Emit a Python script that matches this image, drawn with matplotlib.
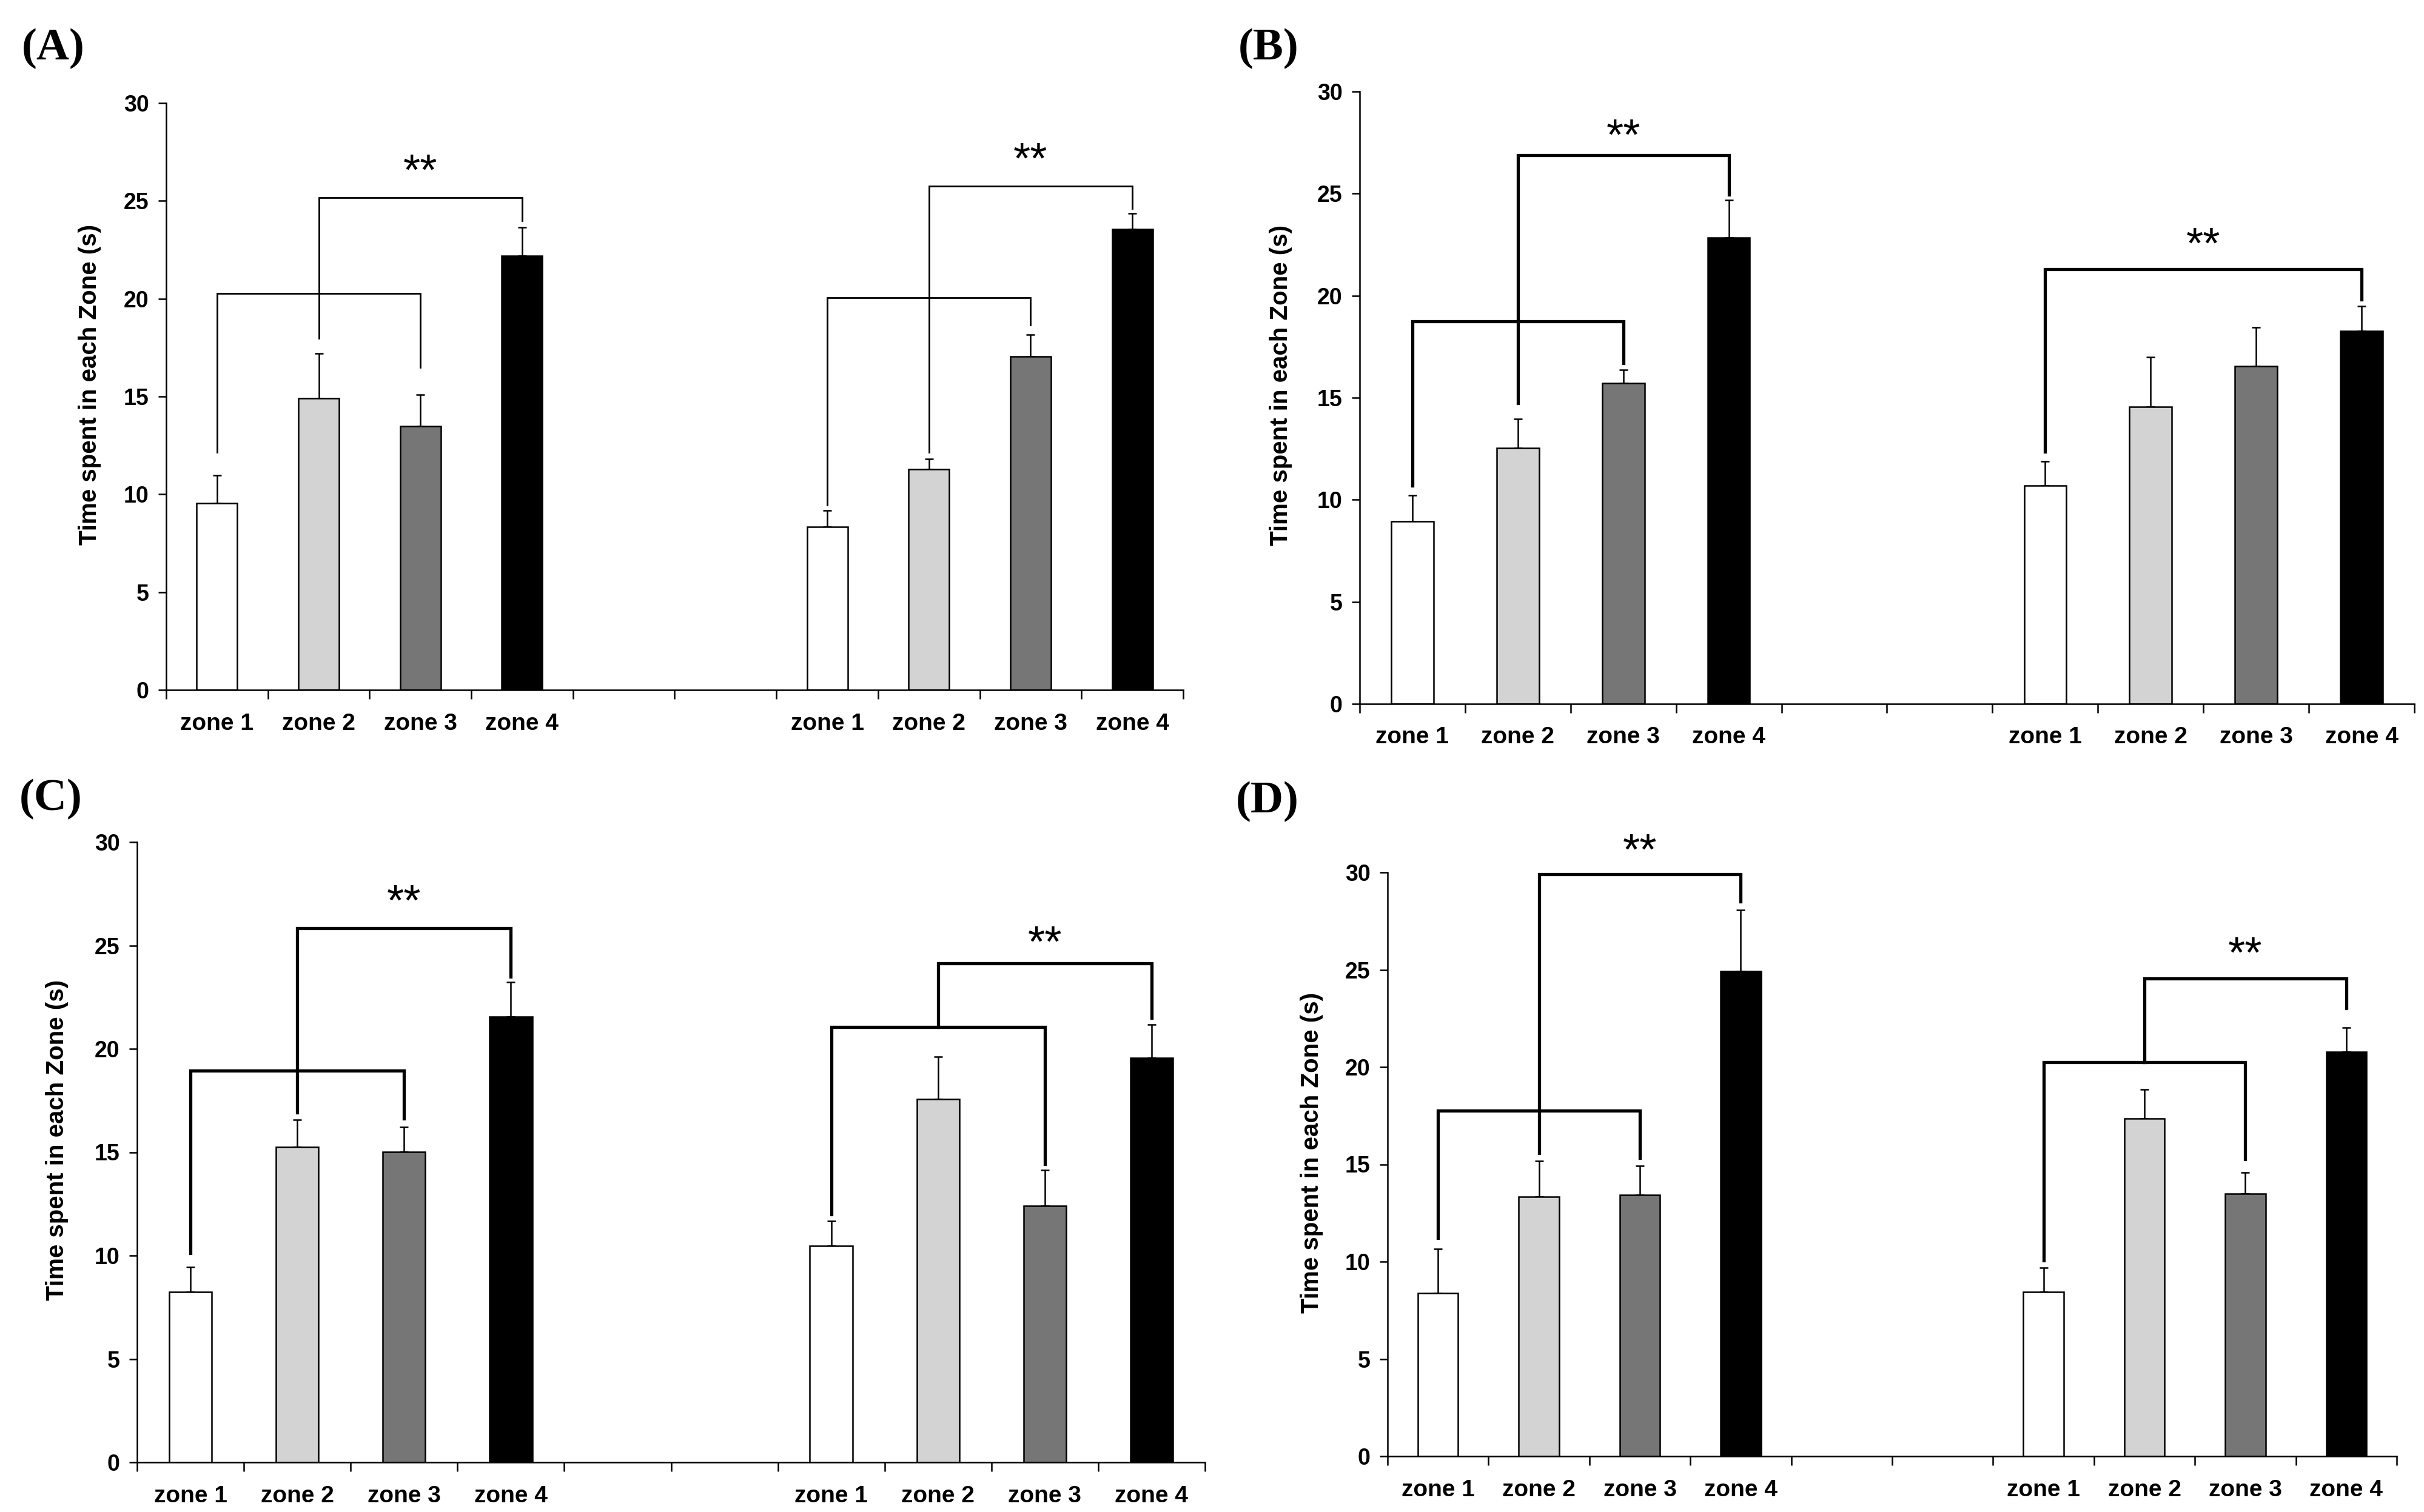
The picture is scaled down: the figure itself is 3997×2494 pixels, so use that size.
import numpy as np
import matplotlib
matplotlib.use("Agg")
import matplotlib.pyplot as plt

plt.rcParams['font.family'] = ['Liberation Sans', 'DejaVu Sans']
plt.rcParams['font.weight'] = 'bold'

# categories (two groups of four zones, two empty slots between)
zones = ['zone 1', 'zone 2', 'zone 3', 'zone 4']
slot_labels = zones + ['', ''] + zones
bar_slots = [0, 1, 2, 3, 6, 7, 8, 9]
bar_colors = ['white', '#d3d3d3', '#767676', 'black'] * 2

# means and (upper) SEM
means_A = [9.54, 14.92, 13.47, 22.19, 8.35, 11.27, 17.05, 23.55]
errs_A = [1.43, 2.28, 1.63, 1.46, 0.82, 0.54, 1.11, 0.81]
means_B = [8.93, 12.53, 15.72, 22.85, 10.68, 14.54, 16.53, 18.28]
errs_B = [1.28, 1.42, 0.64, 1.82, 1.21, 2.46, 1.92, 1.21]
means_C = [8.23, 15.26, 15.02, 21.56, 10.47, 17.56, 12.40, 19.56]
errs_C = [1.21, 1.30, 1.21, 1.67, 1.20, 2.07, 1.74, 1.60]
means_D = [8.38, 13.34, 13.42, 24.93, 8.45, 17.35, 13.49, 20.78]
errs_D = [2.27, 1.83, 1.50, 3.14, 1.24, 1.50, 1.09, 1.26]

# significance brackets: (bar i, bar j, top, leg end i, leg end j, stars y or None)
brackets_A = [(0, 2, 20.26, 12.16, 16.5, None),
              (1, 3, 25.18, 17.96, 24.0, 26.4),
              (4, 6, 20.06, 9.44, 18.65, None),
              (5, 7, 25.75, 12.16, 24.6, 27.0)]
brackets_B = [(0, 2, 18.73, 10.7, 16.7, None),
              (1, 3, 26.88, 14.73, 24.96, 27.7),
              (4, 7, 21.29, 12.36, 19.82, 22.4)]
brackets_C = [(0, 2, 18.95, 10.12, 16.63, None),
              (1, 3, 25.84, 16.91, 23.49, 27.0),
              (4, 6, 21.05, 11.98, 14.42, None),
              (5, 7, 24.14, 21.05, 21.51, 25.0)]
brackets_D = [(0, 2, 17.77, 11.22, 15.32, None),
              (1, 3, 29.92, 15.57, 28.51, 31.0),
              (4, 6, 20.26, 10.06, 15.25, None),
              (5, 7, 24.54, 20.26, 23.03, 25.7)]

W, H = 3998, 2494
fig = plt.figure(figsize=(W / 100, H / 100), dpi=100)

# axes boxes in pixels: left, top, right, bottom
panels = [
    ('(A)', (274, 170, 1951, 1138), means_A, errs_A, brackets_A, 2.0, (36, 80)),
    ('(B)', (2242, 151, 3981, 1161), means_B, errs_B, brackets_B, 3.8, (2042, 80)),
    ('(C)', (226, 1389, 1987, 2412), means_C, errs_C, brackets_C, 3.8, (32, 1318)),
    ('(D)', (2288, 1439, 3952, 2402), means_D, errs_D, brackets_D, 3.8, (2038, 1322)),
]

for tag, (l, t, r, b), means, errs, brackets, blw, (tx, ty) in panels:
    ax = fig.add_axes([l / W, 1 - b / H, (r - l) / W, (b - t) / H])
    x = np.array(bar_slots) + 0.5
    ax.bar(x, means, width=0.4, color=bar_colors, edgecolor='black',
           linewidth=1.8, zorder=2)
    ax.errorbar(x, means, yerr=[np.zeros(len(errs)), errs], fmt='none',
                ecolor='black', elinewidth=1.8, capsize=5, capthick=1.8,
                zorder=1)

    for i, j, top, li, lj, sy in brackets:
        xi, xj = x[i], x[j]
        ax.plot([xi, xi, xj, xj], [li, top, top, lj], color='black',
                lw=blw, solid_joinstyle='miter', clip_on=False, zorder=3)
        if sy is not None:
            ax.text((xi + xj) / 2, sy, '**', ha='center', va='center',
                    fontsize=52, fontweight='normal', clip_on=False)

    ax.set_xlim(0, 10)
    ax.set_ylim(0, 30)
    ax.set_yticks(np.arange(0, 31, 5))
    ax.set_xticks(np.arange(11))
    ax.set_xticklabels([])
    ax.set_xticks(np.arange(10) + 0.5, minor=True)
    ax.set_xticklabels(slot_labels, minor=True)
    ax.tick_params(axis='x', which='major', length=11, width=1.8)
    ax.tick_params(axis='x', which='minor', length=0, pad=27, labelsize=28)
    ax.tick_params(axis='y', length=9.5, width=1.8, pad=11, labelsize=27)
    for s in ['top', 'right']:
        ax.spines[s].set_visible(False)
    for s in ['left', 'bottom']:
        ax.spines[s].set_linewidth(1.8)
    ax.set_ylabel('Time spent in each Zone (s)', fontsize=29, fontweight='bold')
    ax.yaxis.set_label_coords(-0.064, 0.52)

    fig.text(tx / W, 1 - ty / H, tag, ha='left', va='center', fontsize=54,
             family='Liberation Serif', fontweight='bold')

fig.savefig('out.png', dpi=100)
